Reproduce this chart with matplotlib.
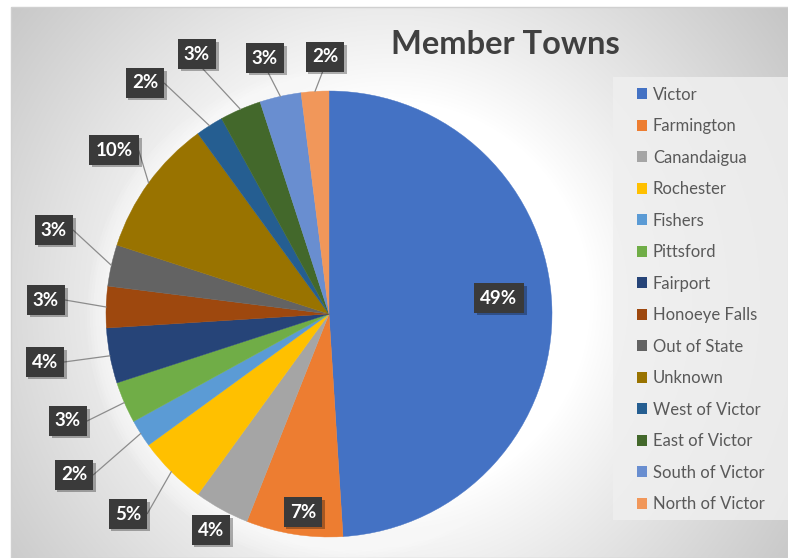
import numpy as np
import matplotlib
matplotlib.use("Agg")
import matplotlib.pyplot as plt
import matplotlib.patheffects as pe
from matplotlib.patches import Rectangle, Circle

plt.rcParams['font.family'] = ['Lato', 'DejaVu Sans']

towns = ["Victor", "Farmington", "Canandaigua", "Rochester", "Fishers", "Pittsford",
         "Fairport", "Honoeye Falls", "Out of State", "Unknown", "West of Victor",
         "East of Victor", "South of Victor", "North of Victor"]
shares = [49, 7, 4, 5, 2, 3, 4, 3, 3, 10, 2, 3, 3, 2]
colors = ["#4472C4", "#ED7D31", "#A5A5A5", "#FFC000", "#5B9BD5", "#70AD47",
          "#264478", "#9E480E", "#636363", "#997300", "#255E91", "#43682B",
          "#698ED0", "#F1975A"]

# label box centres (pixels) and which side the leader leaves from
label_pos = [(499, 298), (303, 512), (211, 530), (128, 514), (74, 475), (68, 421),
             (45, 362), (46, 300), (54, 230), (114, 150), (145, 83), (197, 54),
             (265, 58), (325, 57)]
leader = [None, None, None, "L", "L", "L", "L", "L", "L", "L", "L", "T", "T", "T"]

W, H = 788, 558
fig = plt.figure(figsize=(W / 100, H / 100), dpi=100)
ax = fig.add_axes([0, 0, 1, 1])

# radial gradient background inside chart area
x0, y0 = 11, 7
xs = np.arange(x0, W)
ys = np.arange(y0, H)
X, Y = np.meshgrid(xs, ys)
d = np.hypot(X - 390, Y - 300)
t = np.clip((d - 200) / 330, 0, 1)
v = 1 - 0.25 * t ** 0.9
ax.imshow(np.dstack([v, v, v]), extent=(x0, W, H, y0), zorder=0, interpolation="bilinear")
ax.add_patch(Rectangle((x0, y0), W - x0, H - y0, fill=False, ec="#d0d0d0", lw=1, zorder=1))

cx, cy, R = 329, 314, 223
# soft white glow round the pie
for k in range(8):
    ax.add_patch(Circle((cx + 4, cy + 3), R + 2 + 3 * k, fc="white", ec="none",
                        alpha=0.12, zorder=2))

wedges, _ = ax.pie(shares, colors=colors, startangle=270, counterclock=True,
                   center=(cx, cy), radius=R,
                   wedgeprops=dict(linewidth=0.3, zorder=3))
for w, c in zip(wedges, colors):
    w.set_zorder(3)
    w.set_edgecolor(c)

ax.set_xlim(0, W)
ax.set_ylim(H, 0)
ax.set_aspect("equal")
ax.axis("off")

for w, s, pos, side in zip(wedges, shares, label_pos, leader):
    mid = np.deg2rad((w.theta1 + w.theta2) / 2)
    px, py = cx + R * np.cos(mid), cy + R * np.sin(mid)
    bbox = dict(boxstyle="square,pad=0.33", fc="#3a3a3a", ec="none")
    if side is None:
        txt = ax.text(pos[0], pos[1], f"{s}%", ha="center", va="center", color="white",
                      fontsize=13.5, fontweight="bold", bbox=bbox, zorder=6)
    else:
        if side == "L":
            ap = dict(arrowstyle="-", color="#8c8c8c", lw=0.9, shrinkA=0, shrinkB=0,
                      relpos=(1, 0.5),
                      connectionstyle="arc,angleA=0,armA=6,angleB=0,armB=0,rad=0")
        else:
            ap = dict(arrowstyle="-", color="#8c8c8c", lw=0.9, shrinkA=0, shrinkB=0,
                      relpos=(0.5, 0))
        txt = ax.annotate(f"{s}%", xy=(px, py), xytext=pos, ha="center", va="center",
                          color="white", fontsize=13.5, fontweight="bold", bbox=bbox,
                          arrowprops=ap, zorder=6)
    txt.get_bbox_patch().set_path_effects([
        pe.SimplePatchShadow(offset=(2, -2), shadow_rgbFace="black", alpha=0.3), pe.Normal()])

ax.text(505, 45, "Member Towns", ha="center", va="center", fontsize=23.5,
        fontweight="bold", color="#404040", zorder=6)

# legend panel
ax.add_patch(Rectangle((613, 77), W - 613, 443, fc="#efefef", ec="none", alpha=0.85, zorder=4))
leg = fig.legend(wedges, towns, loc="upper left", bbox_to_anchor=(630 / W, 1 - 80 / H),
                 frameon=False, fontsize=12, handlelength=0.62, handleheight=0.62,
                 handletextpad=0.35, labelspacing=0.93, borderaxespad=0)
for t_ in leg.get_texts():
    t_.set_color("#595959")
for h in leg.legend_handles:
    h.set_path_effects([])
    h.set_edgecolor("none")

fig.savefig("out.png", dpi=100)
